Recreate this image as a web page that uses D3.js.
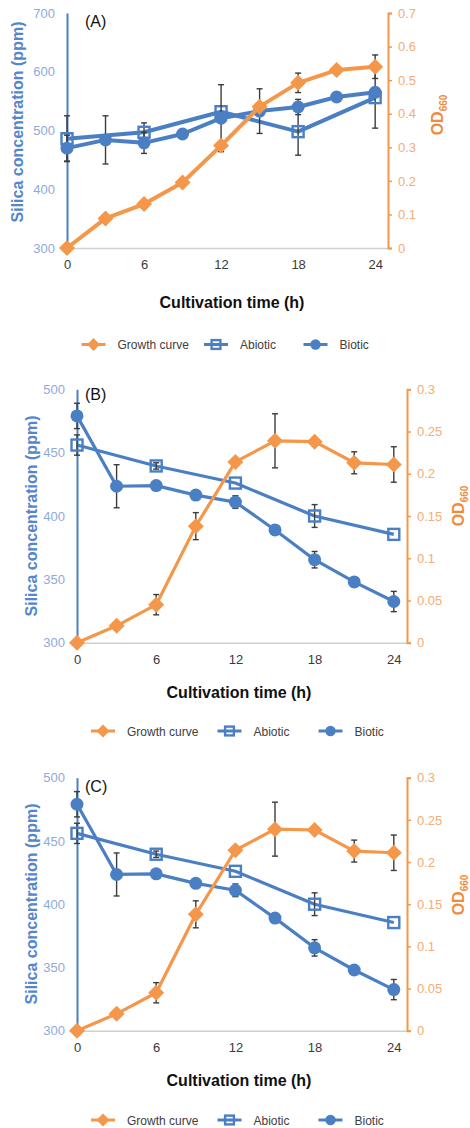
<!DOCTYPE html>
<html>
<head>
<meta charset="utf-8">
<script src="https://cdn.jsdelivr.net/npm/d3@7"></script>
<style>
  body { margin: 0; background: #fff; }
  text { font-family: "Liberation Sans", Arial, sans-serif; }
</style>
</head>
<body>
<script>
// sampling times (h)
var hours = [0, 3, 6, 9, 12, 15, 18, 21, 24];
var abioticHours = [0, 6, 12, 18, 24];
var timeTicks = [0, 6, 12, 18, 24];
var legendNames = ["Growth curve", "Abiotic", "Biotic"];

// panel A
var growthA = [0, 0.088, 0.131, 0.195, 0.305, 0.421, 0.492, 0.530, 0.540];
var growthErrA = [0, 0, 0, 0, 0, 0, 0.029, 0, 0.035];
var abioticA = [486, 497, 532, 498, 556];
var abioticErrA = [39, 16, 0, 40, 52];
var bioticA = [470, 484, 479, 494, 521, 533, 540, 557, 565];
var bioticErrA = [22, 41, 18, 0, 57, 38, 13, 0, 0];
var silicaTicksA = [300, 400, 500, 600, 700];
var odTicksA = [0, 0.1, 0.2, 0.3, 0.4, 0.5, 0.6, 0.7];

// panel B
var growthB = [0, 0.020, 0.045, 0.138, 0.214, 0.239, 0.238, 0.213, 0.211];
var growthErrB = [0, 0, 0.012, 0.016, 0, 0.032, 0, 0.013, 0.021];
var abioticB = [456, 439.5, 426, 400, 385.5];
var abioticErrB = [8, 2.5, 0, 9, 0];
var bioticB = [479, 423.5, 424, 416.5, 411, 389, 365.5, 348, 332.5];
var bioticErrB = [10, 17, 0, 0, 5, 0, 6.5, 0, 8];
var silicaTicksB = [300, 350, 400, 450, 500];
var odTicksB = [0, 0.05, 0.1, 0.15, 0.2, 0.25, 0.3];

// panel C
var growthC = [0, 0.020, 0.045, 0.138, 0.214, 0.239, 0.238, 0.213, 0.211];
var growthErrC = [0, 0, 0.012, 0.016, 0, 0.032, 0, 0.013, 0.021];
var abioticC = [456, 439.5, 426, 400, 385.5];
var abioticErrC = [8, 2.5, 0, 9, 0];
var bioticC = [479, 423.5, 424, 416.5, 411, 389, 365.5, 348, 332.5];
var bioticErrC = [10, 17, 0, 0, 5, 0, 6.5, 0, 8];
var silicaTicksC = [300, 350, 400, 450, 500];
var odTicksC = [0, 0.05, 0.1, 0.15, 0.2, 0.25, 0.3];

var blue = "#4b7fc4", orange = "#f4974a", errCol = "#3c3c3c";

var svg = d3.select("body").append("svg")
  .attr("width", 470)
  .attr("height", 1128);

svg.append("rect").attr("width", 470).attr("height", 1128).attr("fill", "#fff");

var panels = [
  { label: "(A)", labelY: 27, left: 67, right: 388, top: 13, bottom: 248,
    growth: growthA, growthErr: growthErrA, abiotic: abioticA, abioticErr: abioticErrA,
    biotic: bioticA, bioticErr: bioticErrA, silicaTicks: silicaTicksA, odTicks: odTicksA,
    lw: 4, leftTitle: [23, 122], rightTitle: [443, 115], xTitle: [232, 308],
    legendY: 344.5, legendX: [93.5, 216, 315.5] },
  { label: "(B)", labelY: 400, left: 77, right: 407, top: 389.3, bottom: 642.7,
    growth: growthB, growthErr: growthErrB, abiotic: abioticB, abioticErr: abioticErrB,
    biotic: bioticB, bioticErr: bioticErrB, silicaTicks: silicaTicksB, odTicks: odTicksB,
    lw: 3.2, leftTitle: [37, 516], rightTitle: [464, 506], xTitle: [239, 698],
    legendY: 731, legendX: [103, 229.5, 330.5] },
  { label: "(C)", labelY: 791.5, left: 77, right: 407, top: 777.7, bottom: 1030.7,
    growth: growthC, growthErr: growthErrC, abiotic: abioticC, abioticErr: abioticErrC,
    biotic: bioticC, bioticErr: bioticErrC, silicaTicks: silicaTicksC, odTicks: odTicksC,
    lw: 3.2, leftTitle: [37, 904], rightTitle: [464, 895], xTitle: [239, 1086],
    legendY: 1120, legendX: [103, 229.5, 330.5] }
];

panels.forEach(function(p) {
  drawPanel(p);
});

function diamondPath(r) {
  return "M0," + (-r) + "L" + r + ",0L0," + r + "L" + (-r) + ",0Z";
}

function drawPanel(p) {
  var g = svg.append("g");

  var x = d3.scaleLinear().domain([0, 25]).range([p.left, p.right]);
  var yL = d3.scaleLinear()
    .domain([p.silicaTicks[0], p.silicaTicks[p.silicaTicks.length - 1]])
    .range([p.bottom, p.top]);
  var yR = d3.scaleLinear()
    .domain([p.odTicks[0], p.odTicks[p.odTicks.length - 1]])
    .range([p.bottom, p.top]);

  // x axis
  var xAxis = g.append("g")
    .attr("transform", "translate(0," + p.bottom + ")")
    .call(d3.axisBottom(x).tickValues(timeTicks).tickSize(0).tickPadding(12));
  xAxis.select(".domain").attr("stroke", "#d0d0d0").attr("stroke-width", 1.5);
  xAxis.selectAll("text").attr("fill", "#3a3a3a").attr("font-size", 13)
    .style("font-family", "Liberation Sans, Arial, sans-serif");

  // left axis (silica)
  var lAxis = g.append("g")
    .attr("transform", "translate(" + p.left + ",0)")
    .call(d3.axisLeft(yL).tickValues(p.silicaTicks).tickSize(0).tickPadding(12));
  lAxis.select(".domain").attr("stroke", blue).attr("stroke-width", 2);
  lAxis.selectAll("text").attr("fill", "#8eaadb").attr("font-size", 13)
    .style("font-family", "Liberation Sans, Arial, sans-serif");

  // right axis (OD)
  var rAxis = g.append("g")
    .attr("transform", "translate(" + p.right + ",0)")
    .call(d3.axisRight(yR).tickValues(p.odTicks).tickSize(4).tickPadding(6)
      .tickFormat(d3.format("~g")));
  rAxis.select(".domain").attr("stroke", orange).attr("stroke-width", 2);
  rAxis.selectAll("line").attr("stroke", orange).attr("stroke-width", 1.5);
  rAxis.selectAll("text").attr("fill", "#f4ad76").attr("font-size", 13)
    .style("font-family", "Liberation Sans, Arial, sans-serif");

  // titles
  g.append("text")
    .attr("transform", "translate(" + p.leftTitle[0] + "," + p.leftTitle[1] + ") rotate(-90)")
    .attr("text-anchor", "middle")
    .attr("font-size", 16).attr("font-weight", "bold")
    .attr("fill", "#5586cc")
    .text("Silica concentration (ppm)");

  var od = g.append("text")
    .attr("transform", "translate(" + p.rightTitle[0] + "," + p.rightTitle[1] + ") rotate(-90)")
    .attr("text-anchor", "middle")
    .attr("font-size", 16).attr("font-weight", "bold")
    .attr("fill", "#f08b3e");
  od.append("tspan").text("OD");
  od.append("tspan").attr("font-size", 10).attr("dy", 4).text("660");

  g.append("text")
    .attr("x", p.xTitle[0]).attr("y", p.xTitle[1])
    .attr("text-anchor", "middle")
    .attr("font-size", 16).attr("font-weight", "bold")
    .attr("fill", "#111")
    .text("Cultivation time (h)");

  g.append("text")
    .attr("x", 85).attr("y", p.labelY)
    .attr("font-size", 16)
    .attr("fill", "#111")
    .text(p.label);

  var abioticData = abioticHours.map(function(h, i) {
    return { t: h, v: p.abiotic[i], e: p.abioticErr[i] };
  });
  var bioticData = hours.map(function(h, i) {
    return { t: h, v: p.biotic[i], e: p.bioticErr[i] };
  });
  var growthData = hours.map(function(h, i) {
    return { t: h, v: p.growth[i], e: p.growthErr[i] };
  });

  var series = [
    { data: abioticData, y: yL, col: blue, shape: "square" },
    { data: bioticData, y: yL, col: blue, shape: "circle" },
    { data: growthData, y: yR, col: orange, shape: "diamond" }
  ];

  series.forEach(function(s) {
    var line = d3.line()
      .x(function(d) { return x(d.t); })
      .y(function(d) { return s.y(d.v); });

    g.append("path")
      .datum(s.data)
      .attr("d", line)
      .attr("fill", "none")
      .attr("stroke", s.col)
      .attr("stroke-width", p.lw)
      .attr("stroke-linejoin", "round");

    // error bars
    var eb = g.append("g").selectAll("g")
      .data(s.data.filter(function(d) { return d.e > 0; }))
      .enter().append("g")
        .attr("stroke", errCol)
        .attr("stroke-width", 1.4);
    eb.append("line")
      .attr("x1", function(d) { return x(d.t); })
      .attr("x2", function(d) { return x(d.t); })
      .attr("y1", function(d) { return s.y(d.v - d.e); })
      .attr("y2", function(d) { return s.y(d.v + d.e); });
    [-1, 1].forEach(function(sign) {
      eb.append("line")
        .attr("x1", function(d) { return x(d.t) - 3; })
        .attr("x2", function(d) { return x(d.t) + 3; })
        .attr("y1", function(d) { return s.y(d.v + sign * d.e); })
        .attr("y2", function(d) { return s.y(d.v + sign * d.e); });
    });

    var m = g.append("g").selectAll("g")
      .data(s.data)
      .enter().append("g")
        .attr("transform", function(d) {
          return "translate(" + x(d.t) + "," + s.y(d.v) + ")";
        });
    drawMarker(m, s.shape, 1);
  });

  // legend
  var leg = g.append("g");
  var shapes = ["diamond", "square", "circle"];
  var cols = [orange, blue, blue];
  legendNames.forEach(function(name, i) {
    var cx = p.legendX[i];
    leg.append("line")
      .attr("x1", cx - 12).attr("x2", cx + 12)
      .attr("y1", p.legendY).attr("y2", p.legendY)
      .attr("stroke", cols[i]).attr("stroke-width", 3);
    var mk = leg.append("g").attr("transform", "translate(" + cx + "," + p.legendY + ")");
    drawMarker(mk, shapes[i], 0.8);
    leg.append("text")
      .attr("x", cx + 24).attr("y", p.legendY + 4.5)
      .attr("font-size", 12)
      .attr("fill", "#404040")
      .text(name);
  });
}

function drawMarker(sel, shape, k) {
  if (shape === "circle") {
    sel.append("circle").attr("r", 6.5 * k).attr("fill", blue);
  } else if (shape === "square") {
    sel.append("rect")
      .attr("x", -5.5 * k).attr("y", -5.5 * k)
      .attr("width", 11 * k).attr("height", 11 * k)
      .attr("fill", "none")
      .attr("stroke", blue)
      .attr("stroke-width", 2.4);
  } else {
    sel.append("path").attr("d", diamondPath(8 * k)).attr("fill", orange);
  }
}
</script>
</body>
</html>
